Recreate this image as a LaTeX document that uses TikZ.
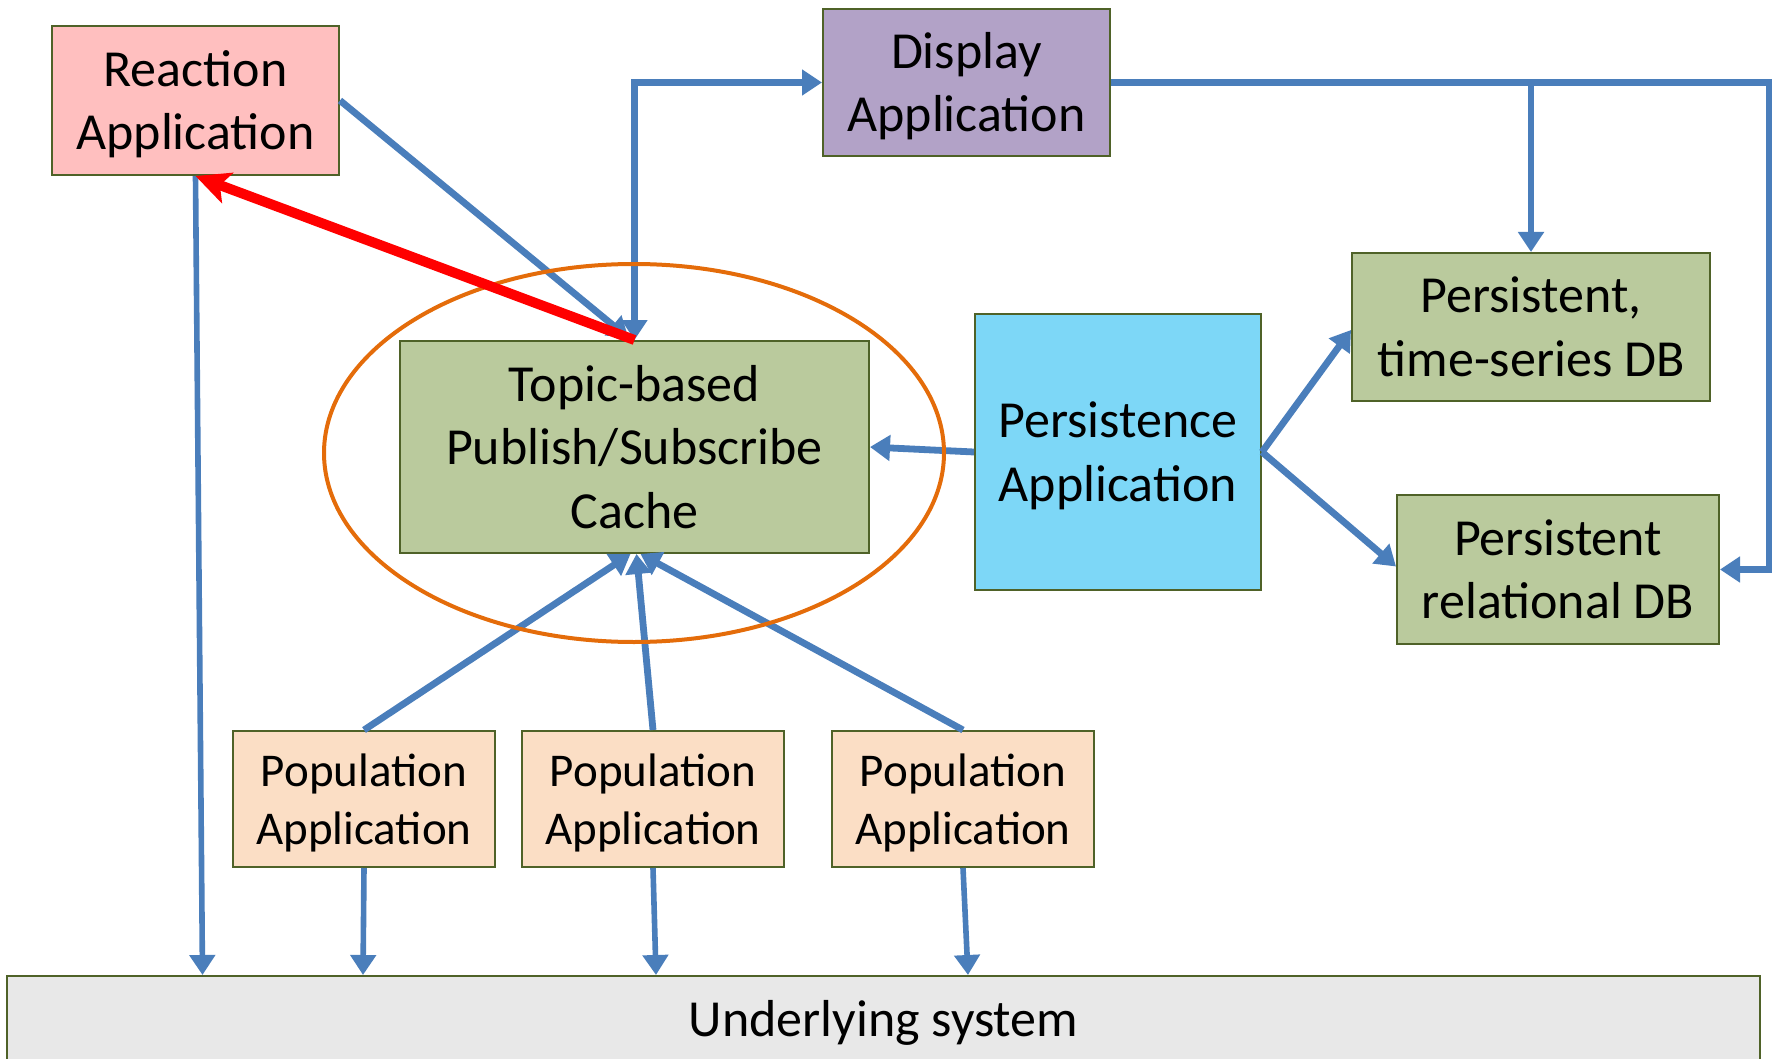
\documentclass[tikz,border=0pt]{standalone}
\usepackage{fontspec}
\setmainfont{Carlito}
\usetikzlibrary{arrows.meta,calc,shapes.geometric}
\definecolor{edgegreen}{HTML}{4F6228}
\definecolor{lineblue}{HTML}{4A7EBB}
\definecolor{reactpink}{HTML}{FFBFBF}
\definecolor{disppurple}{HTML}{B2A2C7}
\definecolor{boxgreen}{HTML}{BACA9D}
\definecolor{perscyan}{HTML}{7DD7F7}
\definecolor{poppeach}{HTML}{FBDEC5}
\definecolor{undergray}{HTML}{E8E8E8}
\definecolor{ringorange}{HTML}{E46C0A}
\newcommand\lowerln[1]{\raisebox{-1.9pt}[\height][\depth]{#1}}
\begin{document}
\begin{tikzpicture}[x=0.5pt,y=-0.5pt,
  >={Triangle[length=10pt,width=12.5pt]},
  box/.style={draw=edgegreen, line width=1pt, align=center, inner sep=0pt,
    font=\fontsize{26}{31.75}\selectfont},
  popbox/.style={box, fill=poppeach, minimum width=131pt, minimum height=68pt,
    font=\fontsize{23.5}{29}\selectfont},
  link/.style={draw=lineblue, line width=3.4pt, ->},
  thinlink/.style={draw=lineblue, line width=2.8pt, ->},
  hotlink/.style={draw=red, line width=5pt, -{Stealth[length=17pt,width=16pt,inset=4pt]}},
  ring/.style={draw=ringorange, line width=2pt, ellipse, inner sep=0pt}]
\useasboundingbox (0,0) rectangle (1777,1059);

\node[box, fill=reactpink, minimum width=143.5pt, minimum height=74.5pt] (react) at (195.5,100.5) {\lowerln{Reaction}\\\lowerln{Application}};
\node[box, fill=disppurple, minimum width=143.5pt, minimum height=73.5pt] (disp) at (966.5,82.5) {\lowerln{Display}\\\lowerln{Application}};
\node[box, fill=boxgreen, minimum width=234.5pt, minimum height=106pt] (topic) at (634.5,447) {Topic-based\\Publish/Subscribe\\Cache};
\node[box, fill=perscyan, minimum width=143pt, minimum height=138pt] (pers) at (1118,452) {\lowerln{Persistence}\\\lowerln{Application}};
\node[box, fill=boxgreen, minimum width=179pt, minimum height=74pt] (ts) at (1531,327) {Persistent,\\time-series DB};
\node[box, fill=boxgreen, minimum width=161pt, minimum height=74.5pt] (rel) at (1558,569.5) {Persistent\\relational DB};
\node[popbox] (pop1) at (364,799) {\lowerln{Population}\\\lowerln{Application}};
\node[popbox] (pop2) at (653,799) {\lowerln{Population}\\\lowerln{Application}};
\node[popbox] (pop3) at (963,799) {\lowerln{Population}\\\lowerln{Application}};
\node[box, fill=undergray, minimum width=876.5pt, minimum height=46.5pt] (under) at (883.5,1022.5) {Underlying system};

% blue connectors
\draw[link] (react.east) -- ([xshift=-3pt,yshift=1pt]topic.north);
\draw[link, <->] (topic.north) |- (disp.west);
\draw[link] (disp.east) -| ($(rel.east)+(49,0)$) -- (rel.east);
\draw[link] (ts.north |- disp.east) -- (ts.north);
\draw[link] (pers.west) -- (topic.east);
\draw[link] (pers.east) -- ([yshift=-1.5pt]ts.west);
\draw[link] (pers.east) -- ([yshift=1.5pt]rel.west);
\draw[link] (pop1.north) -- ([xshift=-2pt]topic.south);
\draw[link] (pop2.north) -- ([xshift=1pt]topic.south);
\draw[link] (pop3.north) -- ([xshift=3pt]topic.south);
\draw[thinlink] (react.south) -- ($(react.south |- under.north)+(7,0)$);
\draw[thinlink] (pop1.south) -- ($(pop1.south |- under.north)+(-1,0)$);
\draw[thinlink] (pop2.south) -- ($(pop2.south |- under.north)+(3,0)$);
\draw[thinlink] (pop3.south) -- ($(pop3.south |- under.north)+(5,0)$);

% cache ring
\node[ring, minimum width=310pt, minimum height=189pt] (cachering) at (634,453) {};

% red connector
\draw[hotlink] (topic.north) -- (react.south);
\end{tikzpicture}
\end{document}
